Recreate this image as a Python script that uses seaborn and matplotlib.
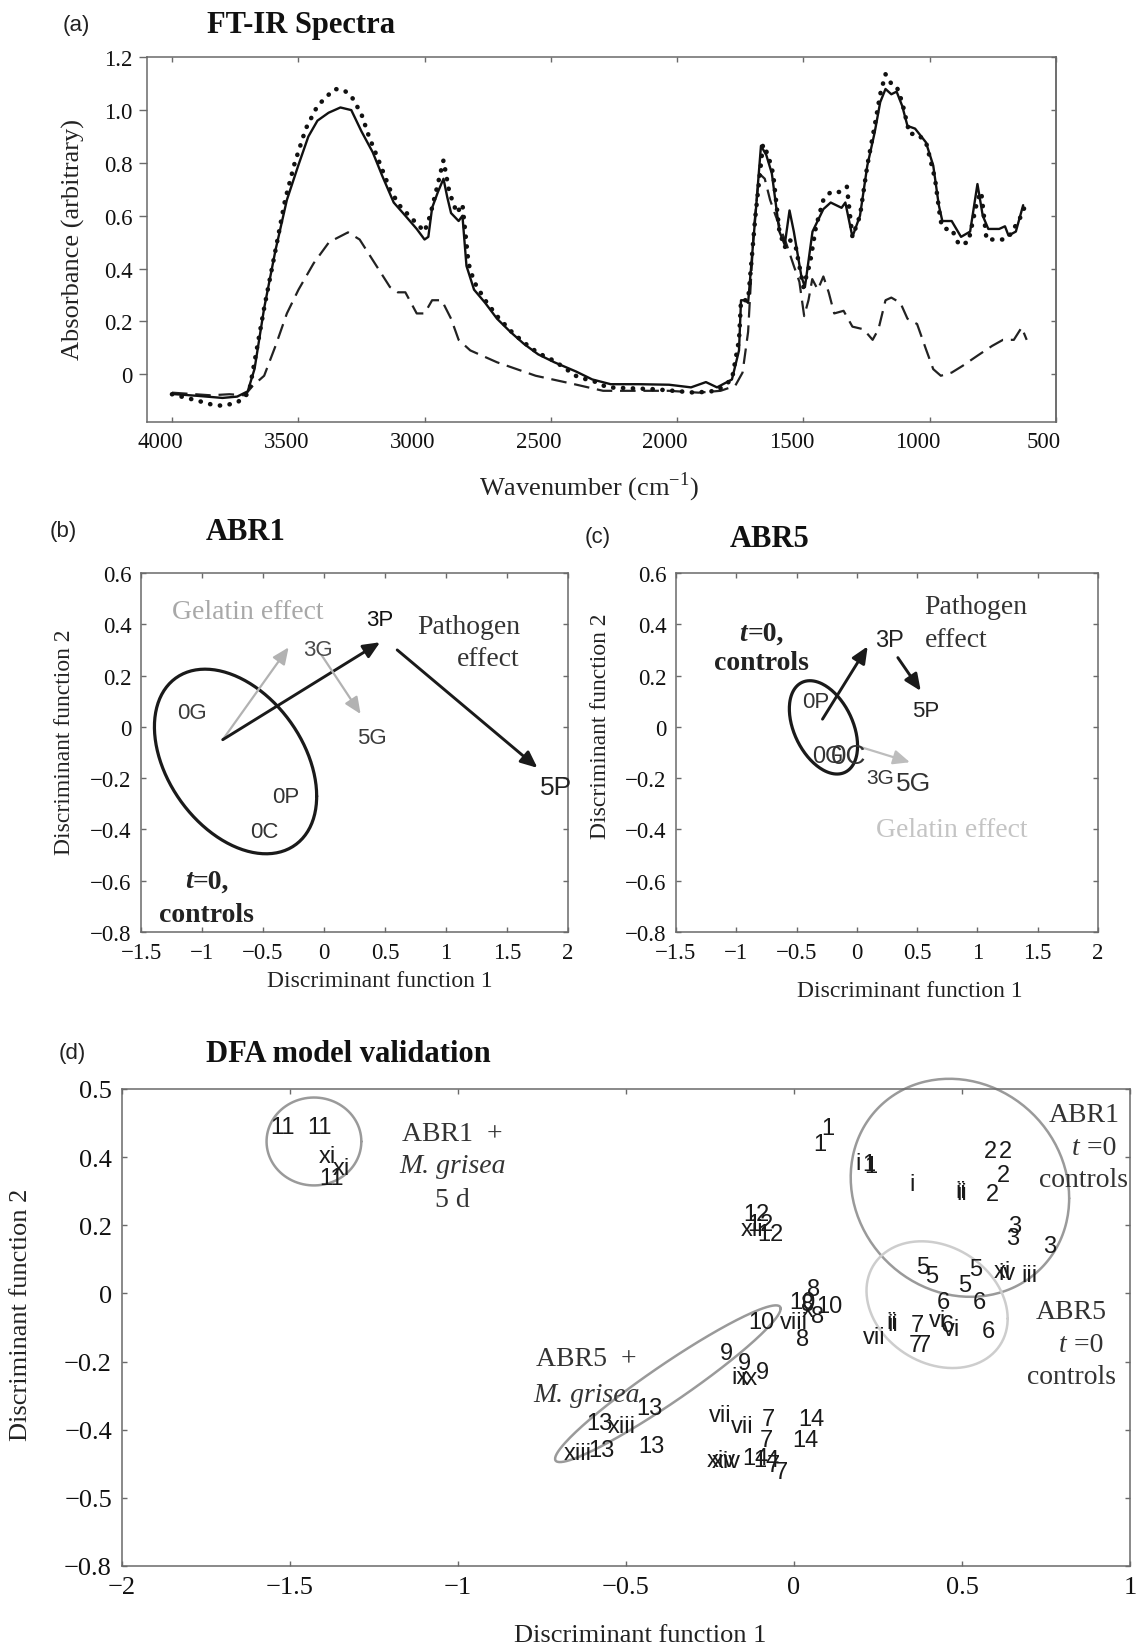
import numpy as np
import seaborn as sns
import matplotlib.pyplot as plt
from matplotlib.transforms import ScaledTranslation
from matplotlib.offsetbox import TextArea, HPacker, AnnotationBbox

sns.set_theme(style='white')
plt.rcParams['font.family'] = ['Liberation Serif', 'DejaVu Serif']
plt.rcParams['axes.unicode_minus'] = True

SERIF = ['Liberation Serif', 'DejaVu Serif']
SANS = ['Liberation Sans', 'DejaVu Sans']
FRAME = '#6a6a6a'
FW, FH = 1136, 1649

# ---------------- (a) FT-IR spectra ----------------
wn_solid = [4000, 3900, 3800, 3742, 3700, 3673, 3635, 3590, 3545, 3500, 3460, 3424, 3380, 3333,
            3290, 3250, 3205, 3167, 3122, 3076, 3031, 3000, 2985, 2970, 2947, 2925, 2910, 2895,
            2865, 2850, 2834, 2804, 2760, 2713, 2660, 2607, 2550, 2486, 2400, 2336, 2263, 2150,
            2032, 1945, 1886, 1842, 1783, 1755, 1747, 1730, 1719, 1690, 1668, 1647, 1625, 1595,
            1574, 1555, 1538, 1508, 1494, 1464, 1421, 1392, 1349, 1334, 1306, 1276, 1247, 1218,
            1196, 1175, 1152, 1131, 1109, 1088, 1058, 1015, 986, 964, 950, 913, 876, 840, 811,
            790, 768, 725, 702, 688, 659, 630]
ab_solid = [-0.075, -0.082, -0.09, -0.085, -0.065, 0.02, 0.25, 0.47, 0.66, 0.79, 0.9, 0.96, 0.99, 1.01,
            1.0, 0.92, 0.84, 0.75, 0.65, 0.6, 0.55, 0.51, 0.52, 0.63, 0.69, 0.74, 0.67, 0.61,
            0.58, 0.6, 0.41, 0.32, 0.27, 0.21, 0.16, 0.115, 0.075, 0.045, 0.01, -0.02, -0.038, -0.038,
            -0.04, -0.05, -0.03, -0.05, -0.02, 0.09, 0.28, 0.28, 0.27, 0.6, 0.865, 0.83, 0.76, 0.54,
            0.49, 0.62, 0.54, 0.37, 0.33, 0.54, 0.625, 0.65, 0.63, 0.65, 0.52, 0.6, 0.79, 0.915,
            1.03, 1.08, 1.06, 1.07, 1.016, 0.94, 0.93, 0.878, 0.79, 0.64, 0.58, 0.58, 0.52, 0.54, 0.72,
            0.6, 0.55, 0.55, 0.56, 0.525, 0.54, 0.64]

wn_dot = [4000, 3900, 3847, 3800, 3742, 3695, 3664, 3635, 3590, 3552, 3514, 3470, 3424, 3378,
          3355, 3318, 3288, 3250, 3220, 3182, 3137, 3100, 3061, 3000, 2978, 2955, 2925, 2902,
          2872, 2850, 2826, 2804, 2760, 2713, 2660, 2607, 2550, 2486, 2395, 2320, 2277, 2089,
          1929, 1842, 1783, 1755, 1747, 1719, 1690, 1660, 1640, 1620, 1595, 1574, 1555, 1530,
          1500, 1474, 1450, 1421, 1392, 1357, 1328, 1306, 1276, 1247, 1218, 1196, 1175, 1152,
          1131, 1109, 1080, 1050, 1015, 979, 957, 943, 913, 884, 847, 811, 796, 775, 738, 702,
          680, 643, 621]
ab_dot = [-0.076, -0.1, -0.114, -0.12, -0.108, -0.07, 0.095, 0.25, 0.47, 0.66, 0.8, 0.93, 1.016, 1.06,
          1.08, 1.075, 1.05, 0.985, 0.9, 0.81, 0.7, 0.64, 0.6, 0.54, 0.6, 0.69, 0.81, 0.69,
          0.61, 0.644, 0.42, 0.35, 0.28, 0.22, 0.165, 0.12, 0.08, 0.05, -0.01, -0.03, -0.05, -0.057,
          -0.07, -0.063, -0.02, 0.13, 0.28, 0.28, 0.6, 0.87, 0.83, 0.76, 0.54, 0.48, 0.51, 0.48,
          0.33, 0.42, 0.56, 0.66, 0.69, 0.69, 0.71, 0.52, 0.6, 0.79, 0.94, 1.06, 1.136, 1.1,
          1.09, 1.03, 0.91, 0.91, 0.88, 0.74, 0.58, 0.55, 0.55, 0.49, 0.5, 0.66, 0.69, 0.51, 0.51, 0.51,
          0.53, 0.59, 0.64]

wn_dash = [4000, 3847, 3773, 3712, 3680, 3635, 3590, 3545, 3499, 3439, 3378, 3303, 3257, 3197,
           3137, 3106, 3076, 3031, 3000, 2970, 2932, 2895, 2865, 2819, 2713, 2560, 2407, 2293,
           2032, 1915, 1828, 1770, 1741, 1719, 1697, 1675, 1653, 1632, 1610, 1566, 1538, 1516,
           1497, 1480, 1465, 1443, 1421, 1400, 1378, 1341, 1306, 1262, 1226, 1203, 1175, 1152,
           1116, 1088, 1050, 1015, 986, 956, 913, 869, 811, 753, 710, 667, 636, 616]
ab_dash = [-0.07, -0.08, -0.076, -0.08, -0.044, -0.006, 0.107, 0.23, 0.32, 0.42, 0.5, 0.537, 0.51, 0.42,
           0.33, 0.31, 0.31, 0.23, 0.23, 0.28, 0.28, 0.21, 0.13, 0.09, 0.045, -0.006, -0.038, -0.063,
           -0.063, -0.07, -0.063, -0.044, 0.006, 0.16, 0.54, 0.76, 0.74, 0.66, 0.6, 0.49, 0.41, 0.35,
           0.22, 0.28, 0.36, 0.32, 0.37, 0.31, 0.23, 0.24, 0.18, 0.17, 0.13, 0.17, 0.28, 0.29,
           0.27, 0.21, 0.19, 0.095, 0.019, -0.006, 0.006, 0.032, 0.07, 0.107, 0.13, 0.13, 0.177, 0.13]

a_xticks = [4000, 3500, 3000, 2500, 2000, 1500, 1000, 500]
a_yticks = [0, 0.2, 0.4, 0.6, 0.8, 1.0, 1.2]
a_yticklabels = ['0', '0.2', '0.4', '0.6', '0.8', '1.0', '1.2']

# ---------------- (b) ABR1 and (c) ABR5 ----------------
bc_xticks = [-1.5, -1, -0.5, 0, 0.5, 1, 1.5, 2]
bc_xticklabels = ['\u22121.5', '\u22121', '\u22120.5', '0', '0.5', '1', '1.5', '2']
bc_yticks = [-0.8, -0.6, -0.4, -0.2, 0, 0.2, 0.4, 0.6]
bc_yticklabels = ['\u22120.8', '\u22120.6', '\u22120.4', '\u22120.2', '0', '0.2', '0.4', '0.6']

b_labels = ['0G', '3G', '5G', '0P', '0C', '3P', '5P']
b_x = [-1.08, -0.05, 0.39, -0.31, -0.49, 0.46, 1.9]
b_y = [0.056, 0.30, -0.04, -0.27, -0.41, 0.42, -0.236]
b_ellipse = dict(cx=-0.725, cy=-0.135, w=0.665, h=0.36, s=-0.09)
b_arrows = [(-0.83, -0.05, -0.29, 0.31, 'gel'), (-0.83, -0.05, 0.46, 0.33, 'path'),
            (-0.02, 0.28, 0.30, 0.05, 'gel'), (0.60, 0.30, 1.75, -0.16, 'path')]

c_labels = ['0P', '0G', '0C', '3G', '5G', '3P', '5P']
c_x = [-0.34, -0.24, -0.07, 0.19, 0.47, 0.27, 0.57]
c_y = [0.10, -0.113, -0.113, -0.197, -0.22, 0.34, 0.062]
c_ellipse = dict(cx=-0.277, cy=-0.002, w=0.283, h=0.182, s=-0.0205)
c_arrows = [(-0.285, 0.03, 0.09, 0.314, 'path'), (0.34, 0.27, 0.53, 0.14, 'path'),
            (0.04, -0.08, 0.44, -0.138, 'gel')]

# ---------------- (d) DFA model validation ----------------
d_labels = ['11', '11', 'xi', 'xi', '11',
            '1', '1', 'i', '1', '1', 'i', 'ii', 'ii',
            '2', '2', '2', '2', '3', '3', '3', 'xi', 'iv', 'iii',
            '5', '5', '5', '5', '6', '6', '6', 'vi', '6', 'vi',
            '7', '7', '7', 'ii', 'ii', 'vii',
            '10', '8', '10', 'viii', '8', '8', 'x', '8', '10',
            '12', 'xii', '12', '12',
            '9', '9', '9', 'ix', 'ix',
            '13', '13', 'xiii', 'xiii', '13', '13',
            'vii', 'vii', '7', '14', '7', '14',
            'xiv', 'xiv', '14', '14', '7', '7']
d_x = [-1.521, -1.41, -1.388, -1.346, -1.375,
       0.077, 0.10, 0.19, 0.222, 0.228, 0.352, 0.495, 0.50,
       0.585, 0.628, 0.623, 0.59, 0.656, 0.65, 0.76, 0.62, 0.635, 0.70,
       0.383, 0.41, 0.54, 0.508, 0.446, 0.552, 0.579, 0.426, 0.457, 0.47,
       0.366, 0.36, 0.388, 0.29, 0.295, 0.238,
       0.024, 0.058, 0.107, 0.0, 0.071, 0.027, 0.04, 0.04, -0.096,
       -0.113, -0.125, -0.07, -0.10,
       -0.202, -0.148, -0.093, -0.16, -0.135,
       -0.429, -0.578, -0.513, -0.643, -0.573, -0.424,
       -0.22, -0.155, -0.076, 0.053, -0.081, 0.033,
       -0.215, -0.20, -0.116, -0.081, -0.061, -0.036]
d_y = [0.489, 0.489, 0.403, 0.369, 0.34,
       0.44, 0.486, 0.383, 0.38, 0.375, 0.32, 0.30, 0.295,
       0.417, 0.417, 0.348, 0.291, 0.199, 0.164, 0.138, 0.065, 0.06, 0.055,
       0.078, 0.05, 0.072, 0.026, -0.025, -0.025, -0.11, -0.077, -0.092, -0.103,
       -0.094, -0.152, -0.152, -0.085, -0.09, -0.129,
       -0.026, 0.012, -0.038, -0.085, -0.066, -0.134, -0.05, -0.03, -0.085,
       0.232, 0.19, 0.175, 0.205,
       -0.175, -0.203, -0.232, -0.244, -0.249,
       -0.336, -0.38, -0.39, -0.469, -0.459, -0.449,
       -0.356, -0.39, -0.37, -0.37, -0.43, -0.43,
       -0.488, -0.493, -0.483, -0.488, -0.503, -0.523]
d_ellipses = [dict(cx=-1.428, cy=0.446, w=0.141, h=0.129, s=0.0, kind='abr1m'),
              dict(cx=0.494, cy=0.31, w=0.325, h=0.32, s=-0.01, kind='abr1'),
              dict(cx=0.426, cy=-0.033, w=0.21, h=0.186, s=-0.0086, kind='abr5'),
              dict(cx=-0.375, cy=-0.265, w=0.3355, h=0.230, s=0.0739, kind='abr5m')]
d_xticks = [-2, -1.5, -1, -0.5, 0, 0.5, 1]
d_xticklabels = ['\u22122', '\u22121.5', '\u22121', '\u22120.5', '0', '0.5', '1']
d_yticks = [0.6, 0.4, 0.2, 0, -0.2, -0.4, -0.6, -0.8]
d_yticklabels = ['0.5', '0.4', '0.2', '0', '\u22120.2', '\u22120.4', '\u22120.5', '\u22120.8']


fig = plt.figure(figsize=(FW / 100, FH / 100), dpi=100)


def px_axes(left, top, right, bottom):
    return fig.add_axes([left / FW, 1 - bottom / FH, (right - left) / FW, (bottom - top) / FH])


def ftext(x, y, s, **kw):
    fig.text(x / FW, 1 - y / FH, s, **kw)


def frame(ax, size=16.5):
    for sp in ax.spines.values():
        sp.set_color(FRAME)
        sp.set_linewidth(1.1)
    ax.tick_params(which='both', direction='in', top=True, right=True, bottom=True, left=True,
                   length=3.5, width=1, color=FRAME, labelcolor='#111', labelsize=size, pad=7)
    ax.grid(False)
    ax.set_xlabel('')
    ax.set_ylabel('')


def ellipse_xy(e):
    t = np.linspace(0, 2 * np.pi, 200)
    c = e['s'] / e['w']
    d = np.sqrt(e['h'] ** 2 - c ** 2)
    return e['cx'] + e['w'] * np.cos(t), e['cy'] + c * np.cos(t) + d * np.sin(t)


def draw_ellipse(ax, e, color, lw):
    ex, ey = ellipse_xy(e)
    sns.lineplot(x=ex, y=ey, sort=False, estimator=None, color=color, lw=lw, ax=ax)
    ax.lines[-1].set_clip_on(False)


def arrow(ax, x0, y0, x1, y1, color, lw):
    ax.annotate('', xy=(x1, y1), xytext=(x0, y0),
                arrowprops=dict(arrowstyle='-|>,head_length=0.5,head_width=0.22', color=color,
                                lw=lw, shrinkA=0, shrinkB=0, mutation_scale=20))


def runs(ax, x, y, parts, size, color='#222', align=(0.5, 0.5)):
    boxes = [TextArea(t, textprops=dict(fontsize=size, family=SERIF, color=color, **kw))
             for t, kw in parts]
    pack = HPacker(children=boxes, pad=0, sep=0, align='baseline')
    ab = AnnotationBbox(pack, (x, y), xycoords='data', frameon=False, box_alignment=align,
                        pad=0, annotation_clip=False)
    ax.add_artist(ab)


# ---- panel (a)
ax = px_axes(146.7, 58.3, 1056, 422.7)
sns.lineplot(x=wn_dash, y=ab_dash, sort=False, estimator=None, color='#222', lw=1.6, ax=ax)
ax.lines[-1].set_linestyle((0, (7, 3.5)))
sns.lineplot(x=wn_dot, y=ab_dot, sort=False, estimator=None, color='#111', lw=3.3, ax=ax)
ax.lines[-1].set_linestyle((0, (0.05, 2.1)))
ax.lines[-1].set_dash_capstyle('round')
sns.lineplot(x=wn_solid, y=ab_solid, sort=False, estimator=None, color='#111', lw=1.7, ax=ax)
ax.set_xlim(4100, 500)
ax.set_ylim(-0.18, 1.2)
frame(ax)
ax.set_xticks(a_xticks, [str(v) for v in a_xticks])
ax.set_yticks(a_yticks, a_yticklabels)
ax.tick_params(axis='y', direction='out', length=6, right=False, pad=4)
sec = ax.secondary_yaxis('right')
sec.set_yticks(a_yticks)
sec.tick_params(direction='in', length=3.5, width=1, color=FRAME, labelright=False)
sec.spines['right'].set_color(FRAME)
sec.spines['right'].set_linewidth(1.1)
shift = ScaledTranslation(-12 / 100, 0, fig.dpi_scale_trans)
for lab in ax.get_xticklabels():
    lab.set_transform(lab.get_transform() + shift)
ftext(76, 25, '(a)', fontsize=16, family=SANS, ha='center', va='center', color='#222')
ftext(301, 25, 'FT-IR Spectra', fontsize=22, fontweight='bold', ha='center', va='center', color='#111')
ftext(589, 487, r'Wavenumber (cm$^{\mathregular{-1}}$)', fontsize=19, ha='center', va='center', color='#222')
ftext(73, 240, 'Absorbance (arbitrary)', fontsize=19, rotation=90, ha='center', va='center', color='#222')

# ---- panel (b)
GEL_B, PATH = '#b2b2b2', '#1a1a1a'
ax = px_axes(141, 574, 568, 933)
ax.set_xlim(-1.5, 2)
ax.set_ylim(-0.8, 0.6)
frame(ax)
ax.set_xticks(bc_xticks, bc_xticklabels)
ax.set_yticks(bc_yticks, bc_yticklabels)
draw_ellipse(ax, b_ellipse, '#1a1a1a', 2.3)
for x0, y0, x1, y1, k in b_arrows:
    arrow(ax, x0, y0, x1, y1, GEL_B if k == 'gel' else PATH, 1.6 if k == 'gel' else 2.1)
b_sizes = [16, 16, 16, 16, 16, 16, 19]
b_colors = ['#3a3a3a', '#4a4a4a', '#3a3a3a', '#333', '#333', '#111', '#222']
for s, x, y, fs, col in zip(b_labels, b_x, b_y, b_sizes, b_colors):
    ax.text(x, y, s, fontsize=fs, family=SANS, color=col, ha='center', va='center')
ax.text(-0.628, 0.45, 'Gelatin effect', fontsize=20, color='#a8a8a8', ha='center', va='center')
ax.text(1.606, 0.39, 'Pathogen', fontsize=20, color='#333', ha='right', va='center')
ax.text(1.606, 0.266, 'effect', fontsize=20, color='#333', ha='right', va='center')
runs(ax, -0.96, -0.60, [('t', dict(fontstyle='italic', fontweight='bold')),
                        ('=0,', dict(fontweight='bold'))], 20)
runs(ax, -0.96, -0.73, [('controls', dict(fontweight='bold'))], 20)
ftext(63, 532, '(b)', fontsize=16, family=SANS, ha='center', va='center', color='#222')
ftext(246, 533, 'ABR1', fontsize=22, fontweight='bold', ha='center', va='center', color='#111')
ftext(380, 982, 'Discriminant function 1', fontsize=17, ha='center', va='center', color='#222')
ftext(65, 742, 'Discriminant function 2', fontsize=17, rotation=90, ha='center', va='center', color='#222')

# ---- panel (c)
ax = px_axes(676, 574, 1098, 933)
ax.set_xlim(-1.5, 2)
ax.set_ylim(-0.8, 0.6)
frame(ax)
ax.set_xticks(bc_xticks, bc_xticklabels)
ax.set_yticks(bc_yticks, bc_yticklabels)
draw_ellipse(ax, c_ellipse, '#1a1a1a', 2.3)
for x0, y0, x1, y1, k in c_arrows:
    arrow(ax, x0, y0, x1, y1, '#bdbdbd' if k == 'gel' else PATH, 1.6 if k == 'gel' else 2.1)
c_sizes = [16, 17, 20, 15, 19, 17, 16]
c_colors = ['#333', '#333', '#333', '#333', '#333', '#222', '#222']
for s, x, y, fs, col in zip(c_labels, c_x, c_y, c_sizes, c_colors):
    ax.text(x, y, s, fontsize=fs, family=SANS, color=col, ha='center', va='center')
ax.text(0.56, 0.47, 'Pathogen', fontsize=20, color='#333', ha='left', va='center')
ax.text(0.56, 0.34, 'effect', fontsize=20, color='#333', ha='left', va='center')
ax.text(0.79, -0.40, 'Gelatin effect', fontsize=20, color='#c4c4c4', ha='center', va='center')
runs(ax, -0.79, 0.366, [('t', dict(fontstyle='italic', fontweight='bold')),
                        ('=0,', dict(fontweight='bold'))], 20)
runs(ax, -0.79, 0.25, [('controls', dict(fontweight='bold'))], 20)
ftext(598, 538, '(c)', fontsize=16, family=SANS, ha='center', va='center', color='#222')
ftext(770, 540, 'ABR5', fontsize=22, fontweight='bold', ha='center', va='center', color='#111')
ftext(910, 992, 'Discriminant function 1', fontsize=17, ha='center', va='center', color='#222')
ftext(600, 726, 'Discriminant function 2', fontsize=17, rotation=90, ha='center', va='center', color='#222')

# ---- panel (d)
ax = px_axes(121.7, 1090, 1130, 1567)
ax.set_xlim(-2, 1)
ax.set_ylim(-0.8, 0.6)
frame(ax, size=19)
ax.set_xticks(d_xticks, d_xticklabels)
ax.set_yticks(d_yticks, d_yticklabels)
ell_style = {'abr1m': ('#9a9a9a', 1.8), 'abr1': ('#9a9a9a', 1.8),
             'abr5': ('#cdcdcd', 1.8), 'abr5m': ('#9a9a9a', 1.8)}
for e in d_ellipses:
    col, lw = ell_style[e['kind']]
    draw_ellipse(ax, e, col, lw)
for s, x, y in zip(d_labels, d_x, d_y):
    ax.text(x, y, s, fontsize=17, family=SANS, color='#1a1a1a', ha='center', va='center')
runs(ax, -1.016, 0.47, [('ABR1  +', {})], 20, '#333')
runs(ax, -1.016, 0.375, [('M. grisea', dict(fontstyle='italic'))], 20, '#333')
runs(ax, -1.016, 0.277, [('5 d', {})], 20, '#333')
runs(ax, -0.618, -0.191, [('ABR5  +', {})], 20, '#333')
runs(ax, -0.618, -0.297, [('M. grisea', dict(fontstyle='italic'))], 20, '#333')
for cx, y0 in [(0.863, 0.526), (0.825, -0.054)]:
    runs(ax, cx, y0, [('ABR1' if y0 > 0 else 'ABR5', {})], 20, '#333')
    runs(ax, cx + 0.03, y0 - 0.097, [('t', dict(fontstyle='italic')), (' =0', {})], 20, '#333')
    runs(ax, cx, y0 - 0.191, [('controls', {})], 20, '#333')
ftext(72, 1054, '(d)', fontsize=16, family=SANS, ha='center', va='center', color='#222')
ftext(348, 1055, 'DFA model validation', fontsize=22, fontweight='bold', ha='center', va='center', color='#111')
ftext(640, 1636, 'Discriminant function 1', fontsize=19, ha='center', va='center', color='#222')
ftext(21, 1315, 'Discriminant function 2', fontsize=19, rotation=90, ha='center', va='center', color='#222')

fig.savefig('out.png', dpi=100)
